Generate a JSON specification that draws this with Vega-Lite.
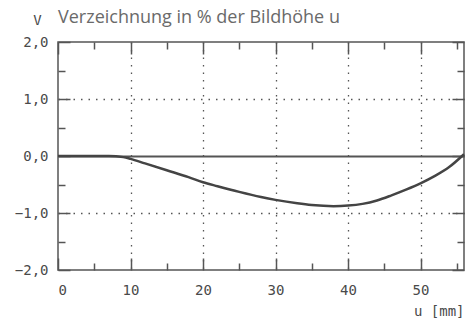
{
  "$schema": "https://vega.github.io/schema/vega-lite/v6.json",
  "width": 406,
  "height": 228,
  "autosize": {"type": "none"},
  "padding": {"left": 58, "top": 42, "right": 4, "bottom": 50},
  "background": "white",
  "title": {
    "text": "Verzeichnung in % der Bildhöhe u",
    "anchor": "start",
    "frame": "group",
    "font": "Open Sans",
    "fontSize": 18,
    "fontWeight": "normal",
    "color": "#6a6a6a",
    "baseline": "alphabetic",
    "offset": -28
  },
  "config": {
    "view": {"stroke": "#555555", "strokeWidth": 1.5},
    "axis": {
      "domain": false,
      "tickColor": "#555555",
      "tickWidth": 1.5,
      "labelFont": "DejaVu Sans Mono",
      "labelFontSize": 14,
      "labelColor": "#4a4a4a",
      "titleFont": "DejaVu Sans Mono",
      "titleFontSize": 14,
      "titleFontWeight": "normal",
      "titleColor": "#4a4a4a",
      "gridColor": "#555555"
    }
  },
  "data": {
    "values": [
      {"u": 0, "v": 0},
      {"u": 4, "v": 0},
      {"u": 7, "v": 0},
      {"u": 9, "v": -0.02},
      {"u": 10, "v": -0.05},
      {"u": 12, "v": -0.13},
      {"u": 15, "v": -0.25},
      {"u": 18, "v": -0.37},
      {"u": 20, "v": -0.46},
      {"u": 22, "v": -0.53},
      {"u": 25, "v": -0.63},
      {"u": 28, "v": -0.72},
      {"u": 30, "v": -0.77},
      {"u": 33, "v": -0.83},
      {"u": 35, "v": -0.86},
      {"u": 38, "v": -0.88},
      {"u": 40, "v": -0.87},
      {"u": 42, "v": -0.84},
      {"u": 44, "v": -0.78},
      {"u": 46, "v": -0.69},
      {"u": 48, "v": -0.59},
      {"u": 50, "v": -0.48},
      {"u": 52, "v": -0.35},
      {"u": 54, "v": -0.19},
      {"u": 56, "v": 0.03}
    ]
  },
  "layer": [
    {
      "mark": {"type": "line", "color": "#444444", "strokeWidth": 2.5, "interpolate": "monotone"},
      "encoding": {
        "x": {
          "field": "u",
          "type": "quantitative",
          "scale": {"domain": [0, 56], "nice": false, "zero": false},
          "axis": {
            "orient": "bottom",
            "values": [0, 5, 10, 15, 20, 25, 30, 35, 40, 45, 50, 55],
            "labelExpr": "datum.value % 10 === 0 ? datum.label : ''",
            "labelPadding": 25,
            "tickSize": {"condition": {"test": "datum.value % 10 === 0", "value": -12}, "value": -7},
            "grid": true,
            "gridDash": [1.5, 6],
            "gridWidth": 1.3,
            "gridOpacity": {"condition": {"test": "datum.value % 10 === 0 && datum.value > 0", "value": 1}, "value": 0},
            "title": "u [mm]",
            "titleAnchor": "end",
            "titleAlign": "right",
            "titlePadding": 7
          }
        },
        "y": {
          "field": "v",
          "type": "quantitative",
          "scale": {"domain": [-2, 2], "nice": false},
          "axis": {
            "orient": "left",
            "values": [-2, -1.5, -1, -0.5, 0, 0.5, 1, 1.5, 2],
            "labelExpr": "datum.value % 1 === 0 ? replace(format(datum.value, '.1f'), '.', ',') : ''",
            "labelPadding": 22,
            "tickSize": {"condition": {"test": "datum.value % 1 === 0", "value": -12}, "value": -7},
            "grid": true,
            "gridDash": {"condition": {"test": "datum.value === 0", "value": []}, "value": [1.5, 6]},
            "gridWidth": {"condition": {"test": "datum.value === 0", "value": 1.8}, "value": 1.3},
            "gridOpacity": {"condition": {"test": "abs(datum.value) === 1 || datum.value === 0", "value": 1}, "value": 0},
            "title": "V",
            "titleAngle": 0,
            "titleAlign": "center",
            "titleBaseline": "alphabetic",
            "titleX": -21,
            "titleY": -18
          }
        }
      }
    },
    {
      "mark": {"type": "line", "strokeOpacity": 0},
      "encoding": {
        "x": {
          "field": "u",
          "type": "quantitative",
          "axis": {
            "orient": "top",
            "values": [0, 5, 10, 15, 20, 25, 30, 35, 40, 45, 50, 55],
            "labels": false,
            "tickSize": {"condition": {"test": "datum.value % 10 === 0", "value": -12}, "value": -7},
            "grid": false,
            "title": null
          }
        },
        "y": {
          "field": "v",
          "type": "quantitative",
          "axis": {
            "orient": "right",
            "values": [-2, -1.5, -1, -0.5, 0, 0.5, 1, 1.5, 2],
            "labels": false,
            "tickSize": {"condition": {"test": "datum.value % 1 === 0", "value": -12}, "value": -7},
            "grid": false,
            "title": null
          }
        }
      }
    }
  ],
  "resolve": {"axis": {"x": "independent", "y": "independent"}}
}
